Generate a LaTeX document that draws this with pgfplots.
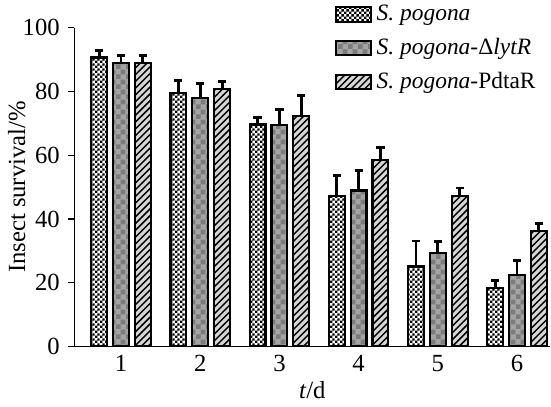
\documentclass[border=0pt]{standalone}
\usepackage{fontspec}
\setmainfont{Liberation Serif}
\usepackage{pgfplots}
\pgfplotsset{compat=1.18}
\usetikzlibrary{patterns}

\definecolor{gLight}{HTML}{A4A4A4}
\definecolor{gDark}{HTML}{7C7C7C}
\definecolor{hatchBg}{HTML}{D6D6D6}

% fine black/white checks
\pgfdeclarepatternformonly{finecheck}{\pgfpointorigin}{\pgfqpoint{2.2pt}{2.2pt}}{\pgfqpoint{2.2pt}{2.2pt}}{%
  \pgfpathrectangle{\pgfpointorigin}{\pgfqpoint{1.1pt}{1.1pt}}%
  \pgfpathrectangle{\pgfqpoint{1.1pt}{1.1pt}}{\pgfqpoint{1.1pt}{1.1pt}}%
  \pgfusepath{fill}}
% larger gray checks
\pgfdeclarepatternformonly{coarsecheck}{\pgfpointorigin}{\pgfqpoint{4pt}{4pt}}{\pgfqpoint{4pt}{4pt}}{%
  \pgfpathrectangle{\pgfpointorigin}{\pgfqpoint{2pt}{2pt}}%
  \pgfpathrectangle{\pgfqpoint{2pt}{2pt}}{\pgfqpoint{2pt}{2pt}}%
  \pgfusepath{fill}}
% diagonal hatch
\pgfdeclarepatternformonly{hatch}{\pgfqpoint{-1pt}{-1pt}}{\pgfqpoint{3.8pt}{3.8pt}}{\pgfqpoint{2.8pt}{2.8pt}}{%
  \pgfsetlinewidth{0.6pt}%
  \pgfpathmoveto{\pgfqpoint{0pt}{0pt}}%
  \pgfpathlineto{\pgfqpoint{2.9pt}{2.9pt}}%
  \pgfusepath{stroke}}

\begin{document}
\begin{tikzpicture}
\begin{axis}[
    scale only axis,
    width=197pt,
    height=132pt,
    ybar=0pt,
    bar width=0.2,
    xmin=0.41, xmax=6.42,
    ymin=0, ymax=100,
    xtick={1,2,3,4,5,6},
    ytick={0,20,40,60,80,100},
    axis x line=bottom,
    axis y line=left,
    axis line style={-, line width=0.6pt},
    tick align=outside,
    major tick length=2.5pt,
    x tick style={draw=none},
    y tick style={line width=0.5pt, black},
    /pgf/number format/assume math mode=true,
    tick label style={font=\fontsize{10.2}{12}\selectfont},
    x tick label style={yshift=2.5pt},
    xlabel={\textit{t}/d},
    ylabel={Insect survival/\%},
    label style={font=\fontsize{10.2}{12}\selectfont},
    xlabel style={yshift=3pt},
    ylabel shift=-8pt,
    legend cell align=left,
    legend style={at={(rel axis cs:0.546,1.088)}, anchor=north west,
        draw=none, fill=none, row sep=1.8pt, inner sep=0pt,
        font=\fontsize{9.7}{11}\selectfont},
    legend image code/.code={\draw[#1, line width=0.9pt] (0pt,-3pt) rectangle (14.5pt,3pt);},
    every axis plot/.append style={draw=black, line width=0.9pt},
    error bars/y dir=plus,
    error bars/y explicit,
    error bars/error bar style={line width=1.2pt, black},
    error bars/error mark options={rotate=90, mark size=1.7pt, line width=1.2pt, black},
]
\addplot[bar shift=-0.276, fill=white, postaction={pattern=finecheck, pattern color=black}]
  coordinates {(1,90.6) +- (0,2.3) (2,79.4) +- (0,4.0) (3,69.6) +- (0,2.3)
               (4,47.3) +- (0,6.3) (5,25.1) +- (0,8.0) (6,18.3) +- (0,2.3)};
\addplot[bar shift=0, fill=gLight, postaction={pattern=coarsecheck, pattern color=gDark}]
  coordinates {(1,88.9) +- (0,2.3) (2,78.0) +- (0,4.6) (3,69.4) +- (0,4.9)
               (4,48.9) +- (0,6.2) (5,29.3) +- (0,3.7) (6,22.5) +- (0,4.5)};
\addplot[bar shift=0.276, fill=hatchBg, postaction={pattern=hatch, pattern color=black}]
  coordinates {(1,89.0) +- (0,2.2) (2,80.8) +- (0,2.2) (3,72.3) +- (0,6.3)
               (4,58.5) +- (0,4.0) (5,47.3) +- (0,2.4) (6,36.1) +- (0,2.4)};
\legend{\textit{S. pogona}, \textit{S. pogona}-Δ\textit{lytR}, \textit{S. pogona}-PdtaR}
\end{axis}
\end{tikzpicture}
\end{document}
